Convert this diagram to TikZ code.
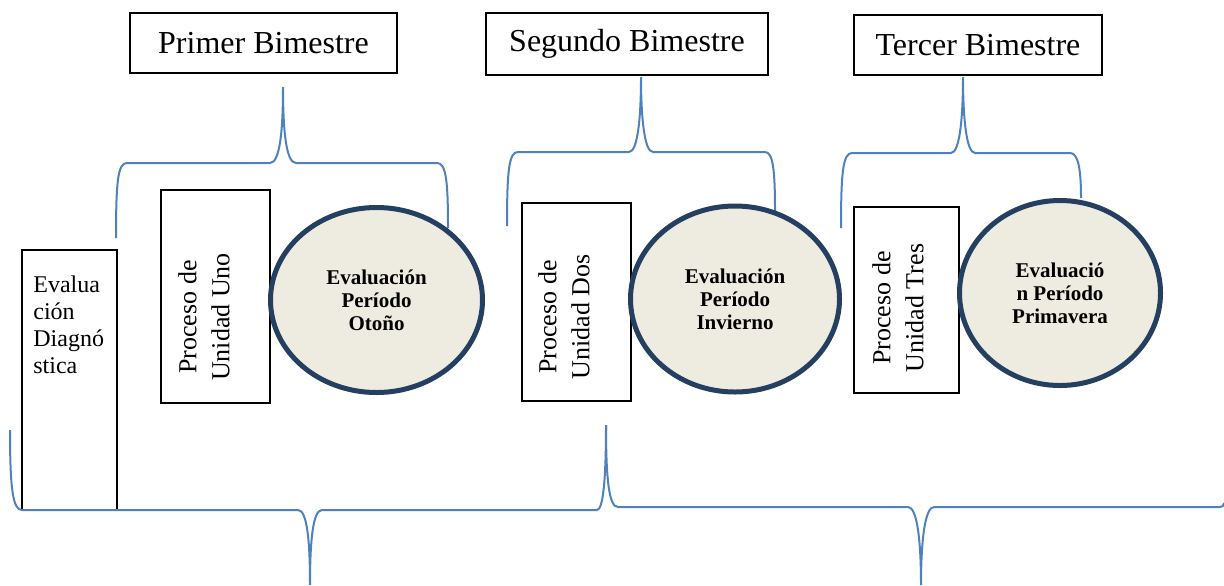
\documentclass[tikz,border=0pt]{standalone}
\usepackage{fontspec}
\setmainfont{Liberation Serif}
\usetikzlibrary{shapes.geometric}
\definecolor{bracecol}{HTML}{4F81BD}
\definecolor{ringcol}{HTML}{243F60}
\definecolor{tancol}{HTML}{EEECE1}
\begin{document}
\begin{tikzpicture}[x=0.5pt,y=-0.5pt]
\tikzset{
  title/.style={draw=black, line width=1pt, inner sep=0pt, font=\fontsize{16}{19}\selectfont},
  unitbox/.style={draw=black, line width=1pt, inner sep=0pt},
  unittext/.style={rotate=90, align=center, inner sep=0pt, font=\fontsize{13}{16.5}\selectfont},
  period/.style={ellipse, draw=ringcol, line width=2.5pt, fill=tancol, inner sep=0pt,
    align=center, font=\fontsize{10.5}{11.5}\selectfont\bfseries},
  brace/.style={draw=bracecol, line width=1pt}
}
\useasboundingbox (0,0) rectangle (1224,585);
% titulos
\node [title, minimum width=133.5pt, minimum height=30pt] (primer) at (263.5,43) {Primer Bimestre};
\node [title, minimum width=141pt, minimum height=31pt] (segundo) at (627,44) {Segundo Bimestre};
\node [title, minimum width=124pt, minimum height=30pt] (tercer) at (978,45) {Tercer Bimestre};
% llaves superiores
\draw [brace] (116,238) .. controls (116,180) and (118,163) .. (127,163) -- (270,163)
  .. controls (280,163) and (283,130) .. (283,87) .. controls (283,130) and (286,163) .. (296,163)
  -- (437,163) .. controls (446,163) and (448,180) .. (448,228);
\draw [brace] (507,226) .. controls (507,170) and (509,152) .. (518,152) -- (629,152)
  .. controls (638,152) and (641,115) .. (641,77) .. controls (641,115) and (644,152) .. (653,152)
  -- (765,152) .. controls (773,152) and (775,170) .. (775,211);
\draw [brace] (841,228) .. controls (841,172) and (843,153) .. (852,153) -- (951,153)
  .. controls (960,153) and (963,115) .. (963,77) .. controls (963,115) and (966,153) .. (975,153)
  -- (1070,153) .. controls (1078,153) and (1081,168) .. (1081,198);
% evaluacion diagnostica
\node [unitbox, minimum width=47.5pt, minimum height=130pt] (diag) at (69.5,380) {};
\node [anchor=north west, align=left, inner sep=0pt, font=\fontsize{12}{13.5}\selectfont] (diagtext) at (33,275) {Evalua\\ción\\Diagnó\\stica};
% unidades
\node [unitbox, minimum width=54.5pt, minimum height=106.5pt] (uno) at (215.5,296.5) {};
\node [unittext] (unotext) at (204,317) {Proceso de\\Unidad Uno};
\node [unitbox, minimum width=54.5pt, minimum height=99pt] (dos) at (576.5,302) {};
\node [unittext] (dostext) at (564,317) {Proceso de\\Unidad Dos};
\node [unitbox, minimum width=52.5pt, minimum height=93pt] (tres) at (906.5,300) {};
\node [unittext] (trestext) at (898,308) {Proceso de\\Unidad Tres};
% evaluaciones de periodo
\node [period, minimum width=106pt, minimum height=92.5pt] (otono) at (376.5,300) {Evaluación\\Período\\Otoño};
\node [period, minimum width=104.5pt, minimum height=93pt] (invierno) at (735,299) {Evaluación\\Período\\Invierno};
\node [period, minimum width=100.5pt, minimum height=92.5pt] (primavera) at (1060,293) {Evaluació\\n Período\\Primavera};
% llaves inferiores
\draw [brace] (10,430) .. controls (10,490) and (13,510) .. (22,510) -- (298,510)
  .. controls (307,510) and (310,540) .. (310,585) .. controls (310,540) and (313,510) .. (322,510)
  -- (597,510) .. controls (603,510) and (606,480) .. (606,425);
\draw [brace] (606,425) .. controls (606,480) and (609,507) .. (618,507) -- (908,507)
  .. controls (917,507) and (921,540) .. (921,585) .. controls (921,540) and (925,507) .. (934,507)
  -- (1220,507) .. controls (1222,507) and (1224,506) .. (1224,503);
\end{tikzpicture}
\end{document}
